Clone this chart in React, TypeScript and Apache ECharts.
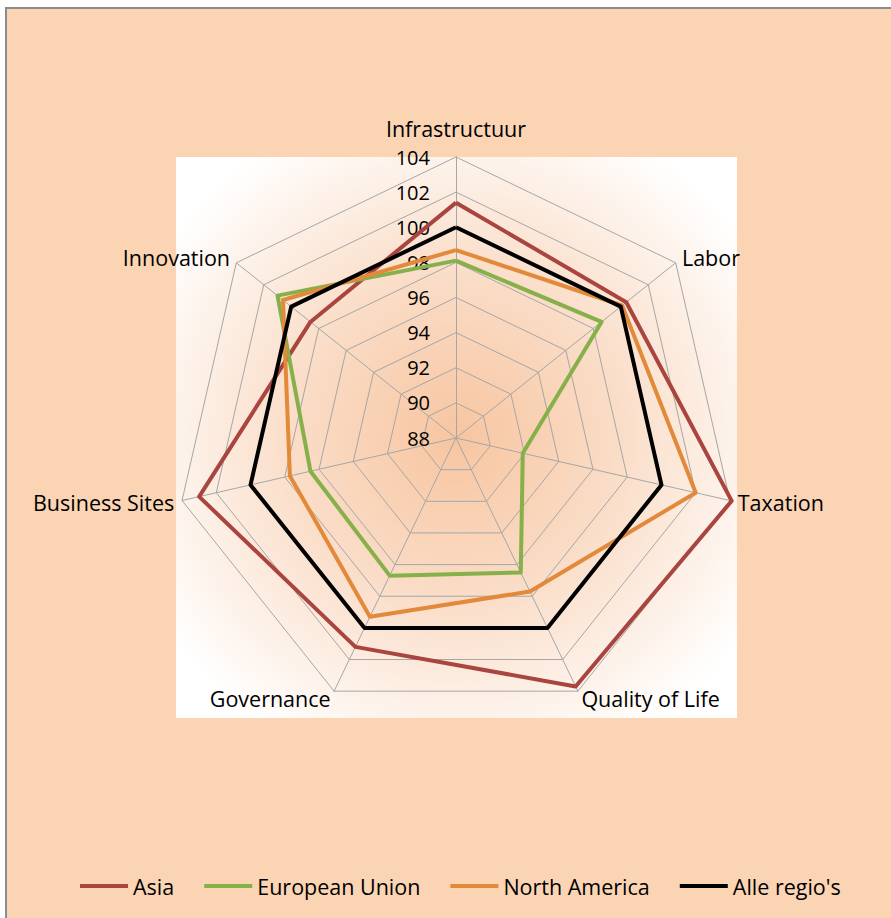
import React, { useEffect, useRef } from "react";
import * as echarts from "echarts";

// Axes in clockwise order starting at the top
const categories = ["Infrastructuur", "Labor", "Taxation", "Quality of Life", "Governance", "Business Sites", "Innovation"];
const tickMin = 88;
const tickMax = 104;
const tickStep = 2;

const seriesNames = ["Asia", "European Union", "North America", "Alle regio's"];
const asia = [101.4, 100.4, 104.1, 103.7, 101.2, 103.0, 98.6];
const europeanUnion = [98.1, 98.6, 91.9, 96.5, 96.7, 96.5, 101.0];
const northAmerica = [98.7, 100.1, 102.0, 97.7, 99.3, 97.7, 100.6];
const alleRegios = [100, 100, 100, 100, 100, 100, 100];
const seriesColors = ["#A9443F", "#86B04A", "#E2893A", "#000000"];

const FONT = "'Open Sans', 'Noto Sans', sans-serif";

// ECharts radar lays indicators out counter-clockwise; reorder so they read clockwise.
const order = [0, 6, 5, 4, 3, 2, 1];
const reorder = (arr: any[]) => order.map((i) => arr[i]);

export default function App() {
  const ref = useRef<HTMLDivElement>(null);
  useEffect(() => {
    if (!ref.current) return;
    const chart = echarts.init(ref.current, null, { renderer: "svg" });
    const allValues = [asia, europeanUnion, northAmerica, alleRegios];
    const indicator = reorder(categories).map((name: string, i: number) => {
      const base: any = { name, min: tickMin, max: tickMax };
      if (i === 0) {
        base.nameGap = 18;
        base.axisLabel = {
          show: true,
          color: "#000",
          fontSize: 20,
          fontFamily: FONT,
          margin: 26,
        };
      }
      return base;
    });
    chart.setOption({
      animation: false,
      graphic: [
        {
          type: "rect",
          z: -10,
          silent: true,
          shape: { x: 6, y: 8, width: 900, height: 930 },
          style: { fill: "#FBD4B4", stroke: "#8C8C8C", lineWidth: 2 },
        },
        {
          type: "rect",
          z: -9,
          silent: true,
          shape: { x: 176, y: 157, width: 561, height: 561 },
          style: {
            fill: new echarts.graphic.RadialGradient(0.5, 0.5, 0.62, [
              { offset: 0, color: "#F7C5A0" },
              { offset: 0.45, color: "#FADCC6" },
              { offset: 1, color: "#FFFFFF" },
            ]),
          },
        },
      ],
      legend: {
        left: 80,
        top: 875,
        padding: 0,
        itemGap: 30,
        itemWidth: 48,
        itemHeight: 4,
        icon: "rect",
        textStyle: { color: "#000", fontSize: 21.5, fontFamily: FONT },
        data: seriesNames,
      },
      radar: {
        center: [456, 438],
        radius: 281,
        startAngle: 90,
        shape: "polygon",
        splitNumber: (tickMax - tickMin) / tickStep,
        indicator,
        axisName: { color: "#000", fontSize: 21.5, fontFamily: FONT },
        axisNameGap: 8,
        axisLine: { show: true, lineStyle: { color: "#A6A6A6", width: 1 } },
        splitLine: { show: true, lineStyle: { color: "#A6A6A6", width: 1 } },
        splitArea: { show: false },
        axisTick: { show: false },
        axisLabel: { show: false },
      },
      series: [
        {
          type: "radar",
          symbol: "none",
          data: allValues.map((vals, i) => ({
            name: seriesNames[i],
            value: reorder(vals),
            lineStyle: { color: seriesColors[i], width: 4 },
            itemStyle: { color: seriesColors[i] },
          })),
        },
      ],
    });
    return () => chart.dispose();
  }, []);
  return (
    <div
      ref={ref}
      style={{ position: "absolute", left: 0, top: 0, width: 891, height: 918 }}
    />
  );
}
